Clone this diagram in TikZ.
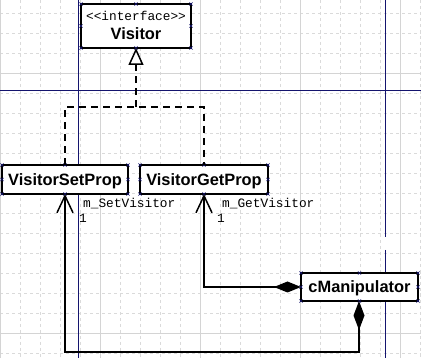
\documentclass[tikz,border=0pt]{standalone}
\usepackage{fontspec}
\setmainfont{Liberation Sans}
\newfontfamily\monof{Liberation Mono}
\usetikzlibrary{arrows.meta}
\definecolor{navy}{RGB}{20,20,110}
\definecolor{gridc}{RGB}{212,212,212}
\definecolor{gridd}{RGB}{218,218,218}
\begin{document}
\begin{tikzpicture}[x=1pt,y=-1pt,
  box/.style={draw, line width=2.5pt, inner sep=0pt, outer sep=0pt, fill=white},
  boldtxt/.style={font=\fontsize{16.4}{18}\selectfont\bfseries, inner sep=0pt, anchor=base},
  monotxt/.style={font=\monof\fontsize{12.8}{14}\selectfont, inner sep=0pt, anchor=base},
  monoleft/.style={monotxt, anchor=base west},
  conn/.style={line width=2pt},
  realize/.style={line width=2pt, dash pattern=on 7pt off 5pt},
  pageline/.style={navy, line width=1pt},
  handle/.style={navy, line width=0.5pt},
  ]
\useasboundingbox (0,0) rectangle (421,358);
\fill[white] (0,0) rectangle (421,358);
% background grid
\foreach \x in {20,40,...,420}
  \draw[gridd, line width=0.7pt, dash pattern=on 3pt off 3pt] (\x,0) -- (\x,358);
\foreach \y in {13.3,33.3,...,353.3}
  \draw[gridd, line width=0.7pt, dash pattern=on 3pt off 3pt] (0,\y) -- (421,\y);
\foreach \x in {0.7,100,200,300,400}
  \draw[gridc, line width=0.8pt] (\x,0) -- (\x,358);
\foreach \y in {73.3,333.3}
  \draw[gridc, line width=0.8pt] (0,\y) -- (421,\y);
% page break lines
\draw[pageline] (78,0) -- (78,358);
\draw[pageline] (385,0) -- (385,237);
\draw[pageline] (385,250) -- (385,358);
\draw[pageline] (0,91) -- (421,91);

% boxes
\node[box, minimum width=110pt, minimum height=44pt] (visitor) at (136,26) {};
\node[monotxt] (ifc) at (136,21) {<<interface>>};
\node[boldtxt] (vname) at (136,39.5) {Visitor};

\node[box, minimum width=126pt, minimum height=29pt] (setprop) at (65,179.5) {};
\node[boldtxt] (setname) at (65,186) {VisitorSetProp};

\node[box, minimum width=128pt, minimum height=29pt] (getprop) at (204,179.5) {};
\node[boldtxt] (getname) at (204,186) {VisitorGetProp};

\node[box, minimum width=117pt, minimum height=28pt] (cmanip) at (359.5,287) {};
\node[boldtxt] (cname) at (359.5,293) {cManipulator};

% selection handles
\foreach \n in {visitor,setprop,getprop,cmanip}
  \foreach \a in {north west,north,north east,east,south east,south,south west,west} {
    \draw[handle] ([xshift=-1.6pt,yshift=-1.6pt]\n.\a) -- ([xshift=1.6pt,yshift=1.6pt]\n.\a);
    \draw[handle] ([xshift=-1.6pt,yshift=1.6pt]\n.\a) -- ([xshift=1.6pt,yshift=-1.6pt]\n.\a);
  }

% realization (dashed) to interface
\coordinate (jl) at (65,107);
\coordinate (jm) at (136,107);
\coordinate (jr) at (204,107);
\coordinate (tb) at (136,66);
\draw[realize] (setprop.north) -- (jl) -- (jr) -- (getprop.north);
\draw[realize] (jm) -- (tb);
\draw[line width=1.5pt, -{Triangle[open, length=17pt, width=15pt]}] (tb) -- (visitor.south);

% compositions
\coordinate (b1) at (359,352);
\coordinate (b2) at (65,352);
\draw[conn, {Diamond[length=27pt, width=11pt]}-{Straight Barb[length=17pt, width=16pt, line width=1.5pt]}]
  (cmanip.west) -| (getprop.south);
\draw[conn, {Diamond[length=29pt, width=11pt]}-{Straight Barb[length=17pt, width=16pt, line width=1.5pt]}]
  ([xshift=-0.5pt]cmanip.south) -- (b1) -- (b2) -- (setprop.south);

% role labels
\node[monoleft] (setrole) at (83,207.5) {m\_SetVisitor};
\node[monoleft] (setmult) at (79,223) {1};
\node[monoleft] (getrole) at (222,207.5) {m\_GetVisitor};
\node[monoleft] (getmult) at (217,223) {1};
\end{tikzpicture}
\end{document}
